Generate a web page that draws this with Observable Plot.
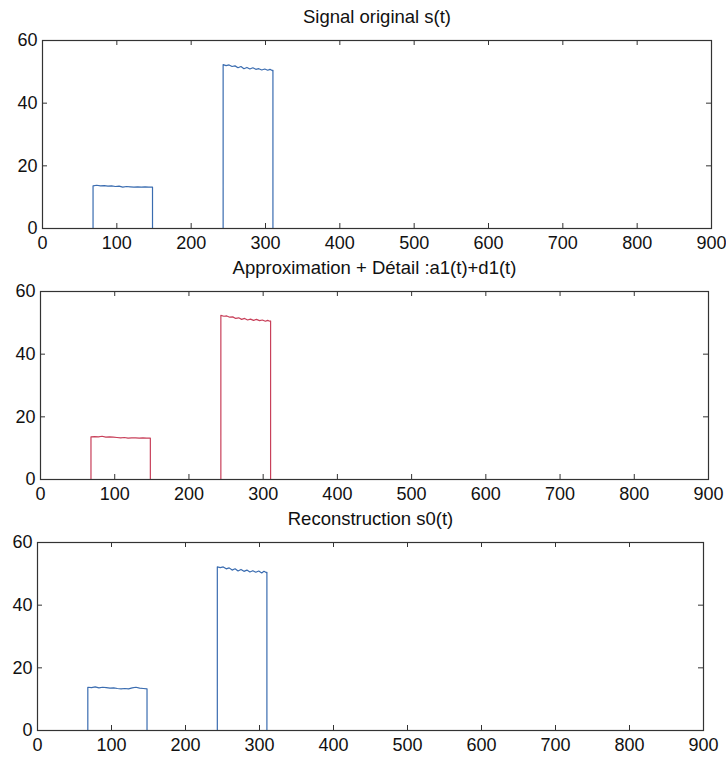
<!DOCTYPE html>
<html>
<head>
<meta charset="utf-8">
<script src="https://cdn.jsdelivr.net/npm/d3@7"></script>
<script src="https://cdn.jsdelivr.net/npm/@observablehq/plot@0.6"></script>
<style>
  body { margin: 0; background: #fff; }
  #chart svg { display: block; }
</style>
</head>
<body>
<div id="chart"></div>
<script>
// ---- data ----
const xTicks = [0, 100, 200, 300, 400, 500, 600, 700, 800, 900];
const yTicks = [0, 20, 40, 60];

const titles = [
  "Signal original s(t)",
  "Approximation + Détail :a1(t)+d1(t)",
  "Reconstruction s0(t)"
];

// time samples (shared)
const t = [0, 68, 68, 73, 78, 83, 88, 93, 98, 103, 108, 113, 118, 123, 128, 133, 138, 143, 148, 148,
           243, 243, 247, 251, 255, 259, 263, 267, 271, 275, 279, 283, 287, 291, 295, 299, 303, 306, 309, 310, 310, 800];

// s(t)
const s1 = [0, 0, 13.6, 13.8, 13.6, 13.7, 13.5, 13.6, 13.4, 13.5, 13.2, 13.4, 13.3, 13.2, 13.3, 13.2, 13.3, 13.2, 13.2, 0,
            0, 52.3, 52.0, 52.2, 51.7, 51.9, 51.3, 51.7, 51.0, 51.4, 50.9, 51.3, 50.8, 51.0, 50.6, 50.9, 50.5, 50.8, 50.4, 50.5, 0, 0];
// a1(t)+d1(t)
const s2 = [0, 0, 13.6, 13.7, 13.6, 13.8, 13.5, 13.6, 13.5, 13.4, 13.3, 13.4, 13.2, 13.3, 13.3, 13.2, 13.3, 13.2, 13.2, 0,
            0, 52.4, 52.1, 52.2, 51.8, 51.9, 51.4, 51.6, 51.1, 51.4, 50.9, 51.2, 50.8, 51.1, 50.7, 50.9, 50.5, 50.8, 50.5, 50.6, 0, 0];
// s0(t)
const s3 = [0, 0, 13.8, 13.7, 13.9, 13.6, 13.8, 13.7, 13.5, 13.6, 13.4, 13.3, 13.4, 13.3, 13.6, 13.8, 13.5, 13.4, 13.3, 0,
            0, 52.2, 52.0, 52.2, 51.6, 51.9, 51.2, 51.6, 50.9, 51.4, 50.8, 51.2, 50.6, 51.0, 50.5, 50.9, 50.3, 50.8, 50.4, 50.5, 0, 0];

const series = [s1, s2, s3];
const colors = ["#3a6cb0", "#c8405a", "#3a6cb0"];
const lefts = [42, 40, 37];
const rights = [15, 18, 23];

const font = "'Liberation Sans', Arial, Helvetica, sans-serif";
const W = 726, H = 251, MT = 40, MB = 23;

function panel(i) {
  const data = t.map((x, k) => ({t: x, v: series[i][k]}));
  const ml = lefts[i], mr = rights[i];
  const plotW = W - ml - mr, plotH = H - MT - MB;
  const tx = 5 * 900 / plotW;   // 5px tick length in x units
  const ty = 5 * 60 / plotH;    // 5px tick length in y units
  const innerX = xTicks.slice(1, -1);
  const innerY = yTicks.slice(1, -1);
  return Plot.plot({
    width: W, height: H,
    marginTop: MT, marginBottom: MB, marginLeft: ml, marginRight: mr,
    style: {fontFamily: font, fontSize: "18px", color: "#111", background: "#fff", overflow: "visible"},
    x: {domain: [0, 900], axis: null},
    y: {domain: [0, 60], axis: null},
    marks: [
      Plot.line(data, {x: "t", y: "v", stroke: colors[i], strokeWidth: 1.2}),
      // inward tick marks (MATLAB box style)
      Plot.ruleX(innerX, {x: d => d, y1: 0, y2: ty, stroke: "#333", strokeWidth: 1}),
      Plot.ruleX(innerX, {x: d => d, y1: 60 - ty, y2: 60, stroke: "#333", strokeWidth: 1}),
      Plot.ruleY(innerY, {y: d => d, x1: 0, x2: tx, stroke: "#333", strokeWidth: 1}),
      Plot.ruleY(innerY, {y: d => d, x1: 900 - tx, x2: 900, stroke: "#333", strokeWidth: 1}),
      Plot.frame({stroke: "#333", strokeWidth: 1.2}),
      Plot.axisX(xTicks, {anchor: "bottom", label: null, tickSize: 0, tickPadding: 8, fontSize: 18, tickFormat: d => String(d)}),
      Plot.axisY(yTicks, {anchor: "left", label: null, tickSize: 0, tickPadding: 5, fontSize: 18, tickFormat: d => String(d)}),
      Plot.text([titles[i]], {text: d => d, frameAnchor: "top", lineAnchor: "middle", dy: -23, fontSize: 18.5, fill: "#111"})
    ]
  });
}

const root = document.getElementById("chart");
for (let i = 0; i < 3; i++) root.appendChild(panel(i));
</script>
</body>
</html>
